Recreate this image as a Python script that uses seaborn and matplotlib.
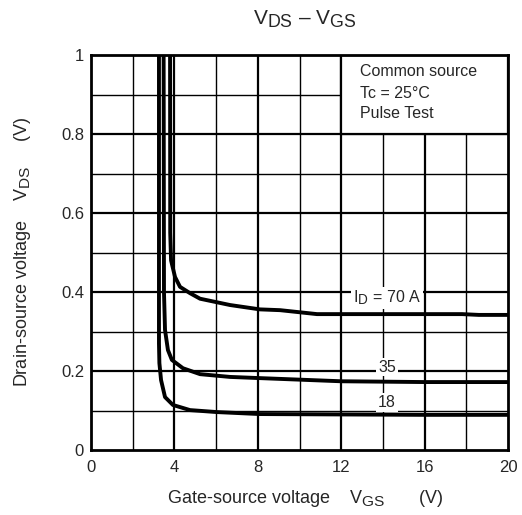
import numpy as np
import pandas as pd
import seaborn as sns
import matplotlib
matplotlib.use("Agg")
import matplotlib.pyplot as plt
import matplotlib._mathtext as mathtext_internals
from matplotlib.patches import Rectangle

# V_DS versus V_GS for three drain currents (Tc = 25 °C, pulse test)
vgs_18 = [3.26, 3.26, 3.28, 3.36, 3.55, 3.93, 4.75, 6.04, 8.1, 12.0, 16.0, 20.0]
vds_18 = [1.10, 0.27, 0.22, 0.177, 0.134, 0.114, 0.101, 0.096, 0.091, 0.090, 0.089, 0.089]

vgs_35 = [3.48, 3.50, 3.55, 3.69, 3.88, 4.41, 5.23, 6.67, 8.1, 12.0, 16.0, 20.0]
vds_35 = [1.10, 0.40, 0.304, 0.253, 0.228, 0.207, 0.192, 0.185, 0.182, 0.174, 0.172, 0.172]

vgs_70 = [3.79, 3.80, 3.84, 4.03, 4.27, 4.75, 5.23, 6.67, 8.1, 9.07, 10.84, 17.8, 18.6, 20.0]
vds_70 = [1.10, 0.55, 0.48, 0.438, 0.413, 0.397, 0.383, 0.367, 0.356, 0.354, 0.344, 0.344, 0.342, 0.342]

label_text = ["I$_\\mathregular{D}$ = 70 A", "35", "18"]
label_x = [14.2, 14.2, 14.2]
label_y = [0.385, 0.21, 0.12]

x_ticks = [0, 4, 8, 12, 16, 20]
x_tick_labels = ["0", "4", "8", "12", "16", "20"]
y_ticks = [0, 0.2, 0.4, 0.6, 0.8, 1.0]
y_tick_labels = ["0", "0.2", "0.4", "0.6", "0.8", "1"]

frames = []
for name, xs, ys in [("18", vgs_18, vds_18), ("35", vgs_35, vds_35), ("70", vgs_70, vds_70)]:
    frames.append(pd.DataFrame({"VGS": xs, "VDS": ys, "ID": name}))
df = pd.concat(frames, ignore_index=True)

sns.set_style("white")
plt.rcParams["font.family"] = ["Liberation Sans", "DejaVu Sans"]
plt.rcParams["mathtext.fontset"] = "custom"
plt.rcParams["mathtext.rm"] = "Liberation Sans"
# larger subscripts, closer to the datasheet lettering
mathtext_internals.SHRINK_FACTOR = 0.85

fig = plt.figure(figsize=(5.22, 5.15), dpi=100)
ax = fig.add_axes([91 / 522, 1 - 450 / 515, (508 - 91) / 522, (450 - 55) / 515])

# grid: thick lines every 4 V / 0.2 V, thin in between
for gx in np.arange(2, 20, 2):
    ax.axvline(gx, color="black", lw=1.6 if gx % 4 == 0 else 1.0, zorder=1)
for gy in np.arange(0.1, 1.0, 0.1):
    major = round(gy * 10) % 2 == 0
    ax.axhline(gy, color="black", lw=1.6 if major else 1.0, zorder=1)

sns.lineplot(data=df, x="VGS", y="VDS", units="ID", estimator=None, sort=False,
             color="black", lw=2.8, ax=ax, zorder=3, legend=False)

for txt, lx, ly in zip(label_text, label_x, label_y):
    ax.text(lx, ly, txt, ha="center", va="center", fontsize=11.5, zorder=4,
            bbox=dict(boxstyle="square,pad=0.12", fc="white", ec="none"))

# condition box in the upper right corner
ax.add_patch(Rectangle((12, 0.8), 8, 0.2, fc="white", ec="black", lw=1.6, zorder=5))
for txt, ty in zip(["Common source", "Tc = 25°C", "Pulse Test"], [0.957, 0.903, 0.853]):
    ax.text(12.9, ty, txt, ha="left", va="center", fontsize=11.5, zorder=6)

ax.set_xlim(0, 20)
ax.set_ylim(0, 1)
ax.set_xticks(x_ticks)
ax.set_xticklabels(x_tick_labels)
ax.set_yticks(y_ticks)
ax.set_yticklabels(y_tick_labels)
ax.tick_params(axis="x", length=0, labelsize=12, pad=7)
ax.tick_params(axis="y", length=0, labelsize=12, pad=5)
for s in ax.spines.values():
    s.set_linewidth(2.0)
    s.set_color("black")
    s.set_zorder(7)

ax.set_xlabel("Gate-source voltage    V$_\\mathregular{GS}$       (V)", fontsize=13)
ax.xaxis.set_label_coords(0.515, -0.124)
ax.xaxis.label.set_va("center")
ax.set_ylabel("Drain-source voltage    V$_\\mathregular{DS}$     (V)", fontsize=13, labelpad=20)
fig.text(305 / 522, 1 - 19 / 515, "V$_\\mathregular{DS}$ – V$_\\mathregular{GS}$",
         ha="center", va="center", fontsize=15)

fig.savefig("out.png", dpi=100)
